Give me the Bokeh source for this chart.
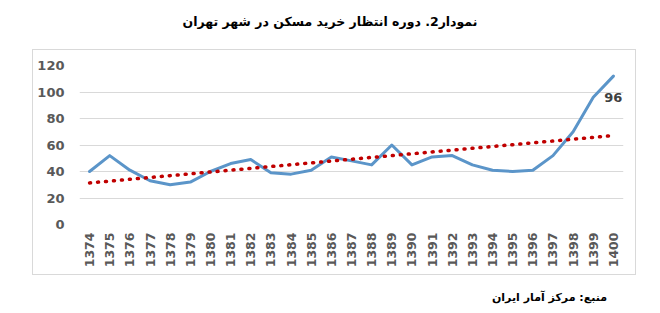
import numpy as np
from bokeh.plotting import figure
from bokeh.layouts import column, row
from bokeh.models import FixedTicker, ColumnDataSource, Div, Spacer
from bokeh.core.properties import value
from bokeh.embed import file_html
from bokeh.resources import INLINE

# ---- data ----
years = [str(y) for y in range(1374, 1401)]
wait_years = [40, 52, 41, 33, 30, 32, 40, 46, 49, 39, 38, 41, 51, 48, 45,
              60, 45, 51, 52, 45, 41, 40, 41, 52, 70, 96, 112]
y_ticks = [0, 20, 40, 60, 80, 100, 120]
labeled_year = "1399"
labeled_value = 96
title_text = "نمودار2. دوره انتظار خرید مسکن در شهر تهران"
source_text = "منبع: مرکز آمار ایران"

# linear trendline (least squares, as the spreadsheet does)
idx = np.arange(len(years))
slope, intercept = np.polyfit(idx, np.array(wait_years, dtype=float), 1)
trend = list(intercept + slope * idx)

p = figure(width=604, height=226, x_range=years, y_range=(0, 120),
           output_backend="svg", toolbar_location=None,
           min_border_left=46, min_border_right=14,
           min_border_top=15, min_border_bottom=52,
           styles={"border": "1px solid #D9D9D9"}, margin=0)
p.background_fill_color = "white"
p.border_fill_color = "white"
p.outline_line_color = None

p.xgrid.visible = False
p.ygrid.grid_line_color = "#D9D9D9"
p.ygrid.grid_line_width = 1
p.yaxis.ticker = FixedTicker(ticks=y_ticks)

for ax in (p.xaxis, p.yaxis):
    ax.axis_line_color = None
    ax.major_tick_line_color = None
    ax.minor_tick_line_color = None
    ax.major_tick_out = 0
    ax.major_tick_in = 0
    ax.major_label_text_font = "DejaVu Sans"
    ax.major_label_text_font_style = "bold"
    ax.major_label_text_color = "#595959"
    ax.major_label_text_font_size = "13px"

p.yaxis.major_label_standoff = 15
p.xaxis.major_label_standoff = 8
p.xaxis.major_label_orientation = np.pi / 2
p.xaxis.major_label_text_font_size = "12.5px"

p.line(years, wait_years, line_color="#5B95C9", line_width=3,
       line_join="round", line_cap="round")
p.line(years, trend, line_color="#C00000", line_width=3.5,
       line_dash="1 7", line_cap="round")

lab_src = ColumnDataSource(dict(x=[labeled_year], y=[labeled_value],
                                t=[str(labeled_value)]))
p.text(x="x", y="y", text="t", source=lab_src, x_offset=11,
       text_align="left", text_baseline="middle",
       text_font=value("DejaVu Sans"), text_font_style="bold",
       text_font_size="13px", text_color="#404040")

title_div = Div(text=title_text, width=660, height=49, margin=0,
                styles={"text-align": "center", "line-height": "44px",
                        "font-family": "DejaVu Sans", "font-weight": "bold",
                        "font-size": "12.5px", "color": "#000000",
                        "direction": "rtl"})
source_div = Div(text=source_text, width=607, height=36, margin=0,
                 styles={"text-align": "right", "line-height": "42px",
                         "font-family": "DejaVu Sans", "font-weight": "bold",
                         "font-size": "11px", "color": "#000000",
                         "direction": "ltr"})

layout = column(title_div,
                row(Spacer(width=32, height=228, margin=0), p, margin=0),
                source_div, margin=0)

open("out.html", "w").write(file_html(layout, INLINE))
